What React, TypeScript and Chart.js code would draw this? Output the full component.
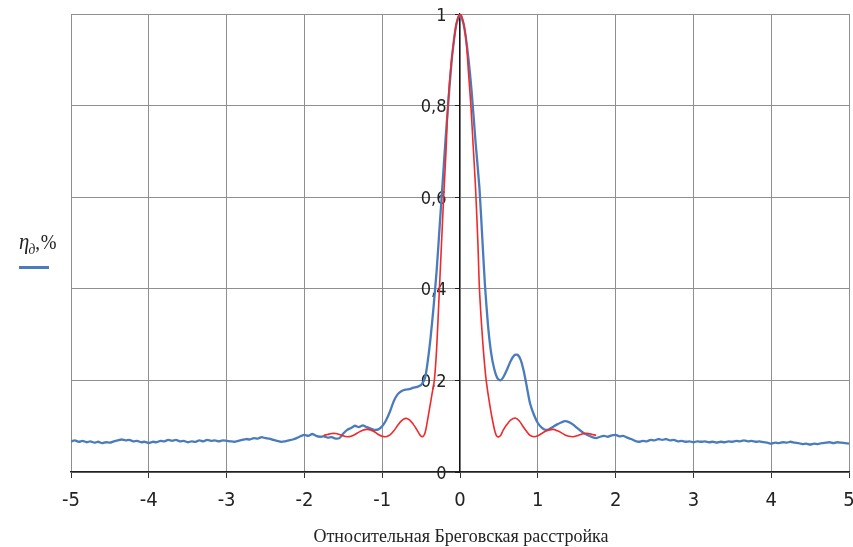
import React, { useEffect, useRef } from "react";
import { Chart, registerables } from "chart.js";

Chart.register(...registerables);

const xTicks: number[] = [-5, -4, -3, -2, -1, 0, 1, 2, 3, 4, 5];
const yTicks: number[] = [0, 0.2, 0.4, 0.6, 0.8, 1];

const blueSeries: [number, number][] = [
  [-5.0, 0.067], [-4.95, 0.069], [-4.9, 0.066], [-4.85, 0.068], [-4.8, 0.065], [-4.75, 0.067],
  [-4.7, 0.064], [-4.65, 0.066], [-4.6, 0.063], [-4.55, 0.065], [-4.5, 0.064], [-4.45, 0.067],
  [-4.4, 0.069], [-4.35, 0.071], [-4.3, 0.069], [-4.25, 0.07], [-4.2, 0.067], [-4.15, 0.068],
  [-4.1, 0.065], [-4.05, 0.066], [-4.0, 0.063], [-3.95, 0.066], [-3.9, 0.065], [-3.85, 0.068],
  [-3.8, 0.067], [-3.75, 0.07], [-3.7, 0.068], [-3.65, 0.07], [-3.6, 0.067], [-3.55, 0.068],
  [-3.5, 0.065], [-3.45, 0.067], [-3.4, 0.066], [-3.35, 0.069], [-3.3, 0.067], [-3.25, 0.07],
  [-3.2, 0.068], [-3.15, 0.069], [-3.1, 0.067], [-3.05, 0.069], [-3.0, 0.068], [-2.95, 0.067],
  [-2.9, 0.066], [-2.85, 0.068], [-2.8, 0.07], [-2.75, 0.072], [-2.7, 0.071], [-2.65, 0.074],
  [-2.6, 0.073], [-2.55, 0.076], [-2.5, 0.074], [-2.45, 0.073], [-2.4, 0.07], [-2.35, 0.068],
  [-2.3, 0.066], [-2.25, 0.067], [-2.2, 0.069], [-2.15, 0.071], [-2.1, 0.074], [-2.05, 0.078],
  [-2.0, 0.081], [-1.95, 0.079], [-1.9, 0.083], [-1.85, 0.079], [-1.8, 0.077], [-1.75, 0.078],
  [-1.7, 0.075], [-1.65, 0.076], [-1.6, 0.073], [-1.55, 0.074], [-1.5, 0.084], [-1.45, 0.092],
  [-1.4, 0.096], [-1.35, 0.101], [-1.3, 0.098], [-1.25, 0.102], [-1.2, 0.098], [-1.15, 0.095],
  [-1.1, 0.092], [-1.05, 0.093], [-1.0, 0.1], [-0.95, 0.113], [-0.9, 0.132], [-0.85, 0.155],
  [-0.8, 0.17], [-0.75, 0.177], [-0.7, 0.18], [-0.65, 0.181], [-0.6, 0.184], [-0.55, 0.186],
  [-0.5, 0.19], [-0.45, 0.205], [-0.42, 0.235], [-0.38, 0.29], [-0.34, 0.36], [-0.3, 0.44],
  [-0.26, 0.54], [-0.22, 0.64], [-0.18, 0.74], [-0.14, 0.83], [-0.1, 0.91], [-0.05, 0.975],
  [0, 1.0], [0.05, 0.975], [0.1, 0.915], [0.15, 0.83], [0.2, 0.72], [0.25, 0.62],
  [0.29, 0.5], [0.32, 0.41], [0.36, 0.32], [0.4, 0.26], [0.44, 0.225], [0.48, 0.205],
  [0.52, 0.2], [0.56, 0.208], [0.6, 0.222], [0.65, 0.242], [0.7, 0.255], [0.74, 0.256],
  [0.78, 0.245], [0.82, 0.22], [0.86, 0.185], [0.9, 0.15], [0.95, 0.125], [1.0, 0.107],
  [1.05, 0.097], [1.1, 0.092], [1.15, 0.094], [1.2, 0.099], [1.25, 0.104], [1.3, 0.108],
  [1.35, 0.111], [1.4, 0.109], [1.45, 0.104], [1.5, 0.097], [1.55, 0.09], [1.6, 0.084],
  [1.65, 0.08], [1.7, 0.076], [1.75, 0.074], [1.8, 0.077], [1.85, 0.079], [1.9, 0.077],
  [1.95, 0.08], [2.0, 0.081], [2.05, 0.078], [2.1, 0.079], [2.15, 0.075], [2.2, 0.072],
  [2.25, 0.068], [2.3, 0.066], [2.35, 0.068], [2.4, 0.067], [2.45, 0.07], [2.5, 0.069],
  [2.55, 0.072], [2.6, 0.07], [2.65, 0.072], [2.7, 0.069], [2.75, 0.07], [2.8, 0.067],
  [2.85, 0.068], [2.9, 0.066], [2.95, 0.067], [3.0, 0.065], [3.05, 0.067], [3.1, 0.066],
  [3.15, 0.067], [3.2, 0.065], [3.25, 0.066], [3.3, 0.064], [3.35, 0.066], [3.4, 0.065],
  [3.45, 0.067], [3.5, 0.066], [3.55, 0.068], [3.6, 0.067], [3.65, 0.069], [3.7, 0.067],
  [3.75, 0.068], [3.8, 0.066], [3.85, 0.067], [3.9, 0.065], [3.95, 0.064], [4.0, 0.062],
  [4.05, 0.064], [4.1, 0.063], [4.15, 0.065], [4.2, 0.064], [4.25, 0.066], [4.3, 0.064],
  [4.35, 0.063], [4.4, 0.061], [4.45, 0.062], [4.5, 0.06], [4.55, 0.062], [4.6, 0.061],
  [4.65, 0.063], [4.7, 0.064], [4.75, 0.065], [4.8, 0.063], [4.85, 0.065], [4.9, 0.064],
  [4.95, 0.063], [5.0, 0.062],
];

const redSeries: [number, number][] = [
  [-1.75, 0.08], [-1.7, 0.082], [-1.65, 0.084], [-1.6, 0.084], [-1.55, 0.082], [-1.5, 0.079],
  [-1.45, 0.077], [-1.4, 0.078], [-1.35, 0.082], [-1.3, 0.087], [-1.25, 0.091], [-1.2, 0.093],
  [-1.15, 0.092], [-1.1, 0.088], [-1.05, 0.082], [-1.0, 0.078], [-0.95, 0.077], [-0.9, 0.081],
  [-0.85, 0.09], [-0.8, 0.102], [-0.75, 0.112], [-0.7, 0.117], [-0.65, 0.114], [-0.6, 0.104],
  [-0.55, 0.091], [-0.51, 0.08], [-0.48, 0.077], [-0.45, 0.085], [-0.42, 0.11], [-0.39, 0.14],
  [-0.36, 0.17], [-0.33, 0.2], [-0.3, 0.27], [-0.27, 0.38], [-0.24, 0.49], [-0.21, 0.6],
  [-0.18, 0.7], [-0.155, 0.8], [-0.12, 0.88], [-0.08, 0.94], [-0.04, 0.985], [0, 1.0],
  [0.04, 0.985], [0.08, 0.94], [0.11, 0.87], [0.14, 0.8], [0.17, 0.71], [0.2, 0.62],
  [0.23, 0.5], [0.25, 0.4], [0.29, 0.29], [0.33, 0.21], [0.37, 0.16], [0.41, 0.12],
  [0.45, 0.088], [0.48, 0.077], [0.52, 0.079], [0.55, 0.09], [0.6, 0.103], [0.65, 0.113],
  [0.71, 0.118], [0.76, 0.112], [0.8, 0.102], [0.85, 0.09], [0.9, 0.08], [0.95, 0.077],
  [1.0, 0.079], [1.05, 0.084], [1.1, 0.089], [1.15, 0.092], [1.2, 0.093], [1.25, 0.09],
  [1.3, 0.086], [1.35, 0.081], [1.4, 0.078], [1.45, 0.077], [1.5, 0.079], [1.55, 0.082],
  [1.6, 0.084], [1.65, 0.084], [1.7, 0.082], [1.75, 0.08],
];

const xTitle = "Относительная Бреговская расстройка";

const tickFont = "'DejaVu Sans Condensed', 'DejaVu Sans', sans-serif";

function fmt(v: number): string {
  const r = Math.round(v * 10) / 10;
  return String(r).replace(".", ",") + "  \u2009";
}

function zeroPadding(s: any) {
  s.paddingLeft = 0;
  s.paddingRight = 0;
  s.paddingTop = 0;
  s.paddingBottom = 0;
}

export default function App() {
  const ref = useRef<HTMLCanvasElement | null>(null);

  useEffect(() => {
    document.body.style.margin = "0";
    const canvas = ref.current;
    if (!canvas) return;
    const chart = new Chart(canvas, {
      type: "line",
      data: {
        datasets: [
          {
            label: "red",
            data: redSeries.map(([x, y]) => ({ x, y })),
            borderColor: "#f02a2a",
            borderWidth: 1.6,
            pointRadius: 0,
            tension: 0.3,
            order: 0,
          },
          {
            label: "blue",
            data: blueSeries.map(([x, y]) => ({ x, y })),
            borderColor: "#4a7cbc",
            borderWidth: 2.3,
            pointRadius: 0,
            tension: 0.2,
            order: 1,
          },
        ],
      },
      options: {
        responsive: false,
        animation: false,
        events: [],
        layout: { padding: { left: 71, right: 4, top: 14, bottom: 35 } },
        plugins: { legend: { display: false }, tooltip: { enabled: false } },
        scales: {
          x: {
            type: "linear",
            min: -5,
            max: 5,
            afterBuildTicks: (s: any) => {
              s.ticks = xTicks.map((v) => ({ value: v }));
            },
            afterFit: (s: any) => {
              s.height = 40;
              zeroPadding(s);
            },
            ticks: {
              font: { family: tickFont, size: 20 },
              color: "#222",
              padding: 11,
              maxRotation: 0,
              callback: (v: any) => String(v),
            },
            grid: { color: "#8f8f8f", lineWidth: 1, tickLength: 6, tickColor: "#333" },
            border: { color: "#222", width: 1.5 },
          },
          y: {
            type: "linear",
            position: { x: 0 } as any,
            min: 0,
            max: 1,
            afterBuildTicks: (s: any) => {
              s.ticks = yTicks.map((v) => ({ value: v }));
            },
            afterFit: (s: any) => {
              s.width = 0;
              zeroPadding(s);
            },
            ticks: {
              font: { family: tickFont, size: 18 },
              color: "#222",
              padding: 8,
              labelOffset: 2,
              callback: (v: any) => fmt(Number(v)),
            },
            grid: { color: "#8f8f8f", lineWidth: 1, tickLength: 4, tickColor: "#222" },
            border: { color: "#111", width: 1.2 },
          },
        },
      },
    });
    return () => chart.destroy();
  }, []);

  return (
    <div style={{ position: "relative", width: 853, height: 547, background: "#fff" }}>
      <canvas ref={ref} width={853} height={547} style={{ display: "block" }} />
      <div
        style={{
          position: "absolute",
          left: 19,
          top: 229,
          fontFamily: "'Liberation Serif', 'Times New Roman', serif",
          fontSize: 21,
          color: "#222",
          whiteSpace: "nowrap",
          transform: "scaleX(0.9)",
          transformOrigin: "left top",
        }}
      >
        <span style={{ fontStyle: "italic", fontSize: 23 }}>η</span>
        <sub style={{ fontStyle: "italic", fontSize: 15, marginLeft: -1 }}>д</sub>
        <span>,</span>
        <span style={{ marginLeft: 1 }}>%</span>
      </div>
      <div
        style={{
          position: "absolute",
          left: 19,
          top: 266,
          width: 30,
          height: 3,
          background: "#4a7cbc",
        }}
      />
      <div
        style={{
          position: "absolute",
          left: 0,
          width: 922,
          top: 526,
          textAlign: "center",
          fontFamily: "'Liberation Serif', 'Times New Roman', serif",
          fontSize: 18,
          color: "#222",
          whiteSpace: "nowrap",
        }}
      >
        {xTitle}
      </div>
    </div>
  );
}
